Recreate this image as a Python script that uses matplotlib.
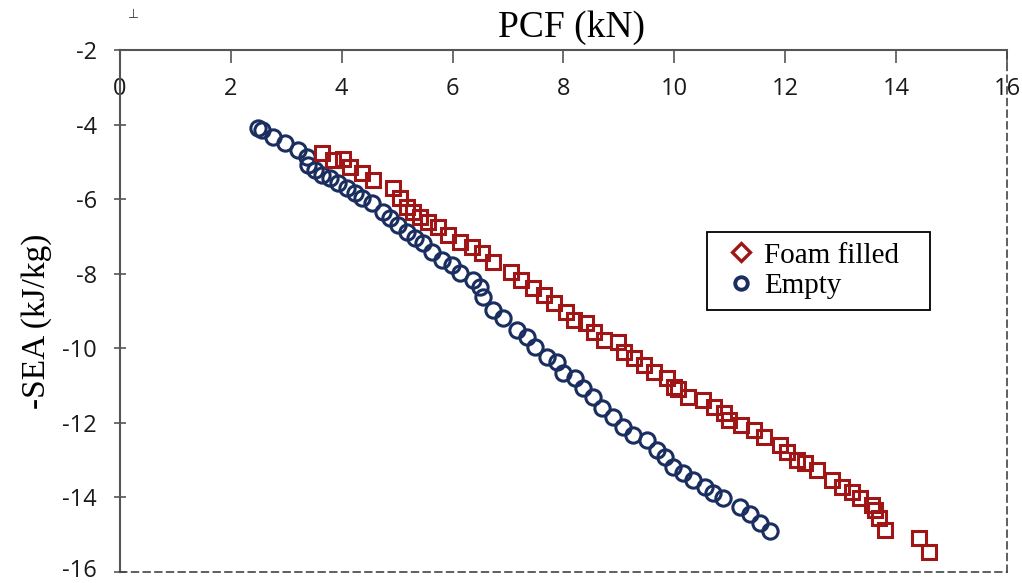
import matplotlib
matplotlib.use("Agg")
import matplotlib.pyplot as plt
from matplotlib.lines import Line2D
from matplotlib.transforms import ScaledTranslation

plt.rcParams["axes.unicode_minus"] = False

# PCF (kN) and -SEA (kJ/kg)
empty_pcf = [2.49, 2.56, 2.76, 2.98, 3.21, 3.38, 3.39, 3.52, 3.65, 3.79, 3.94,
             4.10, 4.24, 4.37, 4.55, 4.75, 4.87, 5.02, 5.18, 5.32, 5.47, 5.63,
             5.81, 5.99, 6.14, 6.37, 6.50, 6.55, 6.73, 6.91, 7.16, 7.35, 7.49,
             7.71, 7.89, 8.00, 8.21, 8.36, 8.54, 8.70, 8.90, 9.08, 9.26, 9.51,
             9.69, 9.84, 9.98, 10.16, 10.34, 10.56, 10.70, 10.87, 11.18, 11.36,
             11.55, 11.72]
empty_sea = [-4.09, -4.14, -4.33, -4.49, -4.68, -4.87, -5.08, -5.22, -5.35,
             -5.43, -5.57, -5.70, -5.83, -5.97, -6.10, -6.34, -6.50, -6.69,
             -6.88, -7.04, -7.17, -7.42, -7.63, -7.76, -7.98, -8.17, -8.35,
             -8.62, -8.97, -9.18, -9.51, -9.69, -9.96, -10.23, -10.36, -10.66,
             -10.79, -11.06, -11.30, -11.60, -11.84, -12.11, -12.32, -12.46,
             -12.72, -12.91, -13.18, -13.34, -13.53, -13.72, -13.88, -14.01,
             -14.25, -14.45, -14.68, -14.90]

foam_pcf = [3.65, 3.84, 4.02, 4.15, 4.37, 4.57, 4.93, 5.05, 5.18, 5.29, 5.42,
            5.56, 5.74, 5.92, 6.14, 6.35, 6.53, 6.73, 7.05, 7.23, 7.45, 7.65,
            7.83, 8.05, 8.19, 8.41, 8.55, 8.73, 8.99, 9.10, 9.28, 9.46, 9.64,
            9.86, 10.00, 10.07, 10.25, 10.52, 10.71, 10.89, 10.99, 11.21,
            11.43, 11.61, 11.90, 12.03, 12.21, 12.35, 12.57, 12.84, 13.02,
            13.20, 13.35, 13.56, 13.62, 13.69, 13.80, 14.41, 14.59]
foam_sea = [-4.76, -4.95, -4.92, -5.14, -5.30, -5.49, -5.70, -5.97, -6.21,
            -6.34, -6.48, -6.61, -6.75, -6.96, -7.15, -7.28, -7.44, -7.68,
            -7.95, -8.17, -8.38, -8.57, -8.78, -9.02, -9.24, -9.32, -9.56,
            -9.77, -9.83, -10.10, -10.26, -10.45, -10.63, -10.79, -11.03,
            -11.10, -11.30, -11.38, -11.57, -11.73, -11.92, -12.05, -12.19,
            -12.38, -12.59, -12.78, -12.99, -13.07, -13.26, -13.53, -13.72,
            -13.85, -14.01, -14.20, -14.33, -14.55, -14.87, -15.08, -15.46]

red = "#a01616"
navy = "#1a2f60"
serif = "Liberation Serif"

fig = plt.figure(figsize=(10.22, 5.83), dpi=100)
ax = fig.add_axes([0.1174, 0.0189, 0.8679, 0.8953])

ax.plot(empty_pcf, empty_sea, "o", ms=11, mfc="none", mec=navy, mew=2.2)
ax.plot(foam_pcf, foam_sea, "s", ms=9.5, mfc="none", mec=red, mew=2.2)

ax.set_xlim(0, 16)
ax.set_ylim(-16, -2)
ax.set_xticks(range(0, 17, 2))
ax.set_yticks(range(-16, -1, 2))

ax.xaxis.tick_top()
ax.tick_params(axis="x", direction="in", length=9, width=1.2, color="#555555",
               pad=-37, labelsize=17)
ax.tick_params(axis="y", direction="inout", length=9, width=1.2,
               color="#555555", pad=12, labelsize=17)
for lab in ax.get_xticklabels() + ax.get_yticklabels():
    lab.set_fontfamily("Open Sans")
    lab.set_color("#1a1a1a")
# lift the lowest label a touch so it stays inside the picture
low = ax.get_yticklabels()[0]
low.set_transform(low.get_transform()
                  + ScaledTranslation(0, 3 / 72, fig.dpi_scale_trans))

for side in ["top", "left"]:
    ax.spines[side].set_color("#555555")
    ax.spines[side].set_linewidth(1.5)
for side in ["bottom", "right"]:
    ax.spines[side].set_color("#444444")
    ax.spines[side].set_linewidth(1.2)
    ax.spines[side].set_linestyle((0, (4, 3)))

ax.set_ylabel("-SEA (kJ/kg)", fontsize=24, family=serif)
ax.yaxis.set_label_coords(-0.0767, 0.481)
fig.text(571 / 1022, 1 - 28 / 583, "PCF (kN)", fontsize=27, family=serif,
         ha="center", va="center")

handles = [
    Line2D([], [], ls="none", marker="D", ms=9, mfc="none", mec=red, mew=2.4),
    Line2D([], [], ls="none", marker="o", ms=9, mfc="none", mec=navy, mew=2.8),
]
x0, y1 = 707 / 1022, 1 - 232 / 583
w, h = 223 / 1022, 71 / 583
leg = ax.legend(handles, ["Foam filled", "Empty"], loc="upper left",
                bbox_to_anchor=(x0, y1 - h, w, h), mode="expand",
                bbox_transform=fig.transFigure, borderaxespad=0,
                fancybox=False, edgecolor="black", framealpha=1,
                handlelength=1.6, handletextpad=0.0, borderpad=0.35,
                labelspacing=0.15, prop={"family": serif, "size": 21})
leg.get_frame().set_linewidth(1.3)

fig.text(133 / 1022, 1 - 14 / 583, "\u22a5", fontsize=9, ha="center",
         va="center", color="#333333")

fig.savefig("out.png", dpi=100)
